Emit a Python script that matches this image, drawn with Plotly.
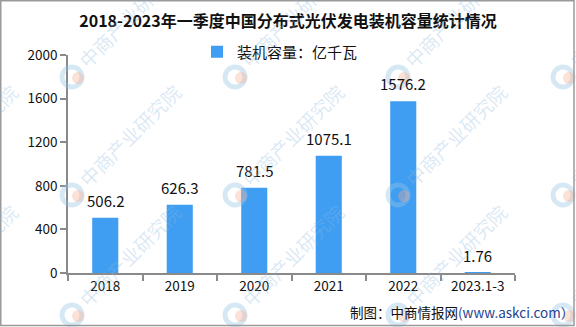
import plotly.graph_objects as go

# Data
categories = ["2018", "2019", "2020", "2021", "2022", "2023.1-3"]
capacity = [506.2, 626.3, 781.5, 1075.1, 1576.2, 1.76]
value_labels = ["506.2", "626.3", "781.5", "1075.1", "1576.2", "1.76"]
y_ticks = [0, 400, 800, 1200, 1600, 2000]

title_text = "2018-2023年一季度中国分布式光伏发电装机容量统计情况"
series_name = "装机容量：亿千瓦"
source_text = "制图：中商情报网<span style='color:#1f3f8f'>(www.askci.com）</span>"
watermark_text = "中商产业研究院"

# Canvas geometry (pixels)
W, H = 576, 327
L, R, T, B = 68, 61, 55, 54
PW, PH = W - L - R, H - T - B


def px_x(px):
    return (px - L) / PW


def px_y(py):
    return (H - B - py) / PH


FONT = "Noto Sans CJK SC"
BAR_BLUE = "#3f9ef2"
AXIS_GRAY = "#8a8a8a"

fig = go.Figure()
fig.add_trace(go.Bar(
    x=categories, y=capacity, name=series_name,
    marker=dict(color=BAR_BLUE, line=dict(width=0)),
    showlegend=True,
))

annotations = []
# value labels above bars (category positions by index)
for i, (v, lab) in enumerate(zip(capacity, value_labels)):
    annotations.append(dict(
        x=i, y=v, xref="x", yref="y", text=lab, showarrow=False,
        yanchor="bottom", yshift=5,
        font=dict(family=FONT, size=15, color="#111111"),
    ))

# source note
annotations.append(dict(
    x=px_x(348), y=px_y(312), xref="paper", yref="paper",
    xanchor="left", yanchor="middle", text=source_text, showarrow=False,
    font=dict(family=FONT, size=13.5, color="#111111"),
))

# diagonal watermarks with round logos
shapes = []
wm_cols = [-91, 72, 235, 398, 563]
wm_rows = [77, 195, 315]
for cy in wm_rows:
    for cx in wm_cols:
        annotations.append(dict(
            x=px_x(cx + 57), y=px_y(cy - 60), xref="paper", yref="paper",
            text=watermark_text, showarrow=False, textangle=-45,
            xanchor="center", yanchor="middle",
            font=dict(family=FONT, size=19, color="rgba(140,185,225,0.33)"),
        ))
        shapes.append(dict(
            type="circle", xref="paper", yref="paper",
            xsizemode="pixel", ysizemode="pixel",
            xanchor=px_x(cx), yanchor=px_y(cy),
            x0=-10, x1=10, y0=-10, y1=10,
            line=dict(color="rgba(150,195,230,0.38)", width=5),
            fillcolor="rgba(0,0,0,0)", layer="above",
        ))
        shapes.append(dict(
            type="circle", xref="paper", yref="paper",
            xsizemode="pixel", ysizemode="pixel",
            xanchor=px_x(cx), yanchor=px_y(cy),
            x0=0, x1=12, y0=-7, y1=5,
            line=dict(width=0),
            fillcolor="rgba(245,170,140,0.35)", layer="above",
        ))

# outer frame
shapes.append(dict(
    type="rect", xref="paper", yref="paper",
    x0=px_x(0.75), x1=px_x(574), y0=px_y(0.75), y1=px_y(325.5),
    line=dict(color="#9a9a9a", width=1.5), fillcolor="rgba(0,0,0,0)",
    layer="above",
))

fig.update_layout(
    width=W, height=H,
    margin=dict(l=L, r=R, t=T, b=B),
    paper_bgcolor="white", plot_bgcolor="white",
    bargap=0.65,
    title=dict(
        text=title_text, x=0.5, xref="container", xanchor="center",
        y=1 - 21 / H, yref="container", yanchor="middle",
        font=dict(family=FONT, size=16, color="#111111", weight="bold"),
    ),
    legend=dict(
        orientation="h", x=px_x(280), y=px_y(52), xref="paper", yref="paper",
        xanchor="center", yanchor="middle",
        font=dict(family=FONT, size=15, color="#111111"),
        bgcolor="rgba(0,0,0,0)", itemwidth=30,
    ),
    xaxis=dict(
        type="category", range=[-0.5, 5.5],
        showline=True, linecolor=AXIS_GRAY, linewidth=1.5,
        ticks="outside", tickson="boundaries", ticklen=6, tickcolor=AXIS_GRAY,
        tickwidth=1.5, showgrid=False, zeroline=False,
        tickfont=dict(family=FONT, size=13.5, color="#111111"),
    ),
    yaxis=dict(
        range=[0, 2000], tickvals=y_ticks, ticktext=[str(t) for t in y_ticks],
        showline=True, linecolor=AXIS_GRAY, linewidth=1.5,
        ticks="outside", ticklen=6, tickcolor=AXIS_GRAY, tickwidth=1.5,
        showgrid=False, zeroline=False,
        tickfont=dict(family=FONT, size=13.5, color="#111111"),
    ),
    annotations=annotations,
    shapes=shapes,
)

fig.write_html("out.html")
